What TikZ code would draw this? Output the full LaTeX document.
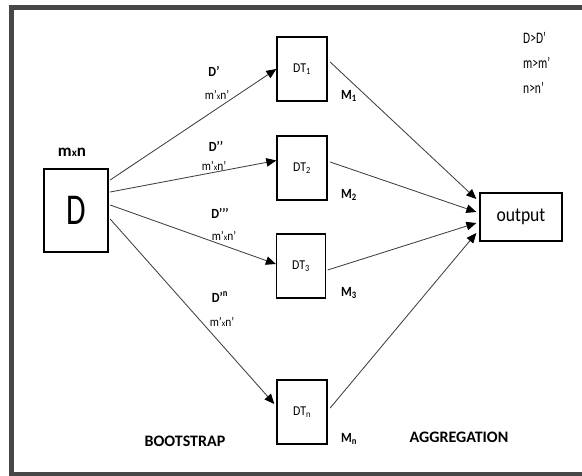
\documentclass[tikz,border=0pt]{standalone}
\usepackage{fontspec}
\setmainfont{Carlito}
\newfontfamily\narrowfont{Carlito}[FakeStretch=0.72]
\newfontfamily\slimfont{Carlito}[FakeStretch=0.88]
\usetikzlibrary{arrows.meta,calc}

\tikzset{
  box/.style={draw=black, line width=1.3pt, minimum width=50pt, minimum height=64pt, inner sep=0pt, font=\slimfont\fontsize{13.5}{13.5}\selectfont},
  link/.style={draw=black!75, line width=0.85pt, -{Triangle[length=10pt,width=8.5pt,fill=black,color=black]}},
  lbl/.style={inner sep=0pt, font=\slimfont\fontsize{13}{13}\selectfont},
  blbl/.style={inner sep=0pt, font=\slimfont\bfseries\fontsize{14}{14}\selectfont},
  title/.style={inner sep=0pt, font=\bfseries\fontsize{16}{16}\selectfont},
  note/.style={inner sep=0pt, anchor=west, font=\narrowfont\fontsize{16}{16}\selectfont}
}

\begin{document}
\begin{tikzpicture}[x=1pt, y=-1pt]
  \useasboundingbox (0,0) rectangle (582,475);
  % page frame: top, left and bottom edges; the right edge lies off the page
  \begin{scope}
    \clip (0,0) rectangle (582,475);
    \draw[line width=5pt, draw=black!72, line join=miter]
      (600,7.5) -- (11.5,7.5) -- (11.5,474.5) -- (600,474.5);
  \end{scope}

  % data set and trees
  \node[box, minimum width=64pt, minimum height=83pt, font=\narrowfont\fontsize{44}{44}\selectfont] (D) at (76,210.5) {D};
  \node[box] (T1) at (302,69)  {DT\textsubscript{1}};
  \node[box] (T2) at (302,168) {DT\textsubscript{2}};
  \node[box, minimum width=49pt] (T3) at (301,266) {DT\textsubscript{3}};
  \node[box] (Tn) at (302,412) {DT\textsubscript{n}};
  \node[box, minimum width=82pt, minimum height=48pt, font=\slimfont\fontsize{20}{20}\selectfont] (out) at (521,217) {output};

  % bootstrap samples
  \draw[link] ($(D.east)+(1.5,-30.5)$) -- (T1.west);
  \draw[link] ($(D.east)+(1.5,-18.5)$) -- ($(T2.west)+(0,-7.5)$);
  \draw[link] ($(D.east)+(1.5,-5.5)$)  -- ($(T3.west)+(0,-2)$);
  \draw[link] ($(D.east)+(1.5,8.5)$)   -- ($(Tn.west)+(-2,-8)$);

  % aggregation
  \draw[link] ($(T1.east)+(2.5,-7)$) -- ($(out.west)+(-3,-18)$);
  \draw[link] ($(T2.east)+(2.5,-6)$) -- ($(out.west)+(-3,-5)$);
  \draw[link] ($(T3.east)+(1.5,4)$)  -- ($(out.west)+(-3,6)$);
  \draw[link] ($(Tn.east)+(2.5,-4)$) -- ($(out.west)+(-3,16)$);

  % labels
  \node[inner sep=0pt, font=\bfseries\fontsize{17}{17}\selectfont] (mn) at (72,152) {m{\fontsize{11}{11}\selectfont x}n};
  \node[blbl] (d1) at (214,71)  {D’};
  \node[blbl] (d2) at (216,146) {D’’};
  \node[blbl] (d3) at (220,213) {D’’’};
  \node[blbl] (dn) at (220,297) {D’\textsuperscript{n}};
  \node[lbl] (s1) at (217,95)  {m’{\fontsize{9}{9}\selectfont x}n’};
  \node[lbl] (s2) at (214,166) {m’{\fontsize{9}{9}\selectfont x}n’};
  \node[lbl] (s3) at (224,236) {m’{\fontsize{9}{9}\selectfont x}n’};
  \node[lbl] (sn) at (222,322) {m’{\fontsize{9}{9}\selectfont x}n’};
  \node[blbl] (m1) at (349,96)  {M\textsubscript{1}};
  \node[blbl] (m2) at (349,195) {M\textsubscript{2}};
  \node[blbl] (m3) at (349,293) {M\textsubscript{3}};
  \node[blbl] (mn2) at (349,439) {M\textsubscript{n}};
  \node[title] (boot) at (185,441) {BOOTSTRAP};
  \node[title] (agg) at (459,437) {AGGREGATION};
  \node[note] (c1) at (523,38) {D>D’};
  \node[note] (c2) at (523,63) {m>m’};
  \node[note] (c3) at (523,88) {n>n’};
\end{tikzpicture}
\end{document}
